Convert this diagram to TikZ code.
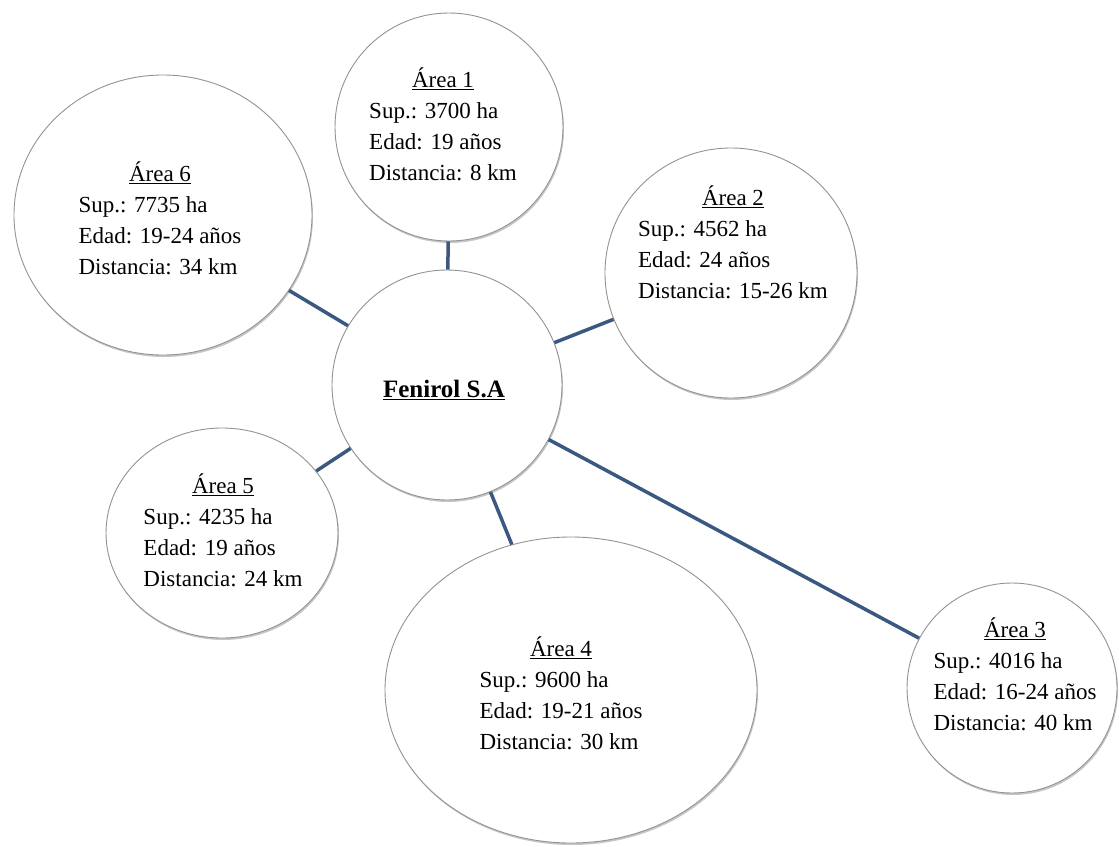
\documentclass[tikz,border=0pt]{standalone}
\usepackage{fontspec}
\setmainfont{Liberation Serif}
\usetikzlibrary{positioning, shapes.geometric, shadows}

\definecolor{linkblue}{RGB}{58,88,128}

\newcommand{\areatext}[4]{%
  \begin{tabular}{@{}l@{}}
    \multicolumn{1}{@{}c@{}}{\underline{#1}}\\
    Sup.: #2\\
    Edad: #3\\
    Distancia: #4
  \end{tabular}}

\begin{document}
\begin{tikzpicture}[x=1pt, y=-1pt,
    zone/.style={ellipse, draw=gray!85, line width=0.9pt, fill=white, inner sep=0pt,
        drop shadow={shadow xshift=1pt, shadow yshift=-2pt, opacity=0.45}},
    info/.style={inner sep=0pt, font=\fontsize{23}{31}\selectfont},
    link/.style={draw=linkblue, line width=3.5pt}]
        \useasboundingbox (0,0) rectangle (1119,846);

        \node (fen) [zone, minimum width=230pt, minimum height=230pt] at (447,385) {};
        \node (a1) [zone, minimum width=228pt, minimum height=228pt] at (449,127) {};
        \node (a2) [zone, minimum width=252pt, minimum height=250pt] at (731,273) {};
        \node (a3) [zone, minimum width=210pt, minimum height=210pt] at (1012,688) {};
        \node (a4) [zone, minimum width=372pt, minimum height=306pt] at (571,690) {};
        \node (a5) [zone, minimum width=232pt, minimum height=210pt] at (222,533) {};
        \node (a6) [zone, minimum width=298pt, minimum height=280pt] at (163,215) {};

        \path
            (fen) edge[link] (a1)
            (fen) edge[link] (a2)
            (fen) edge[link] (a3)
            (fen) edge[link] (a4)
            (fen) edge[link] (a5)
            (fen) edge[link] (a6);

        \node (fentxt) [info, font=\fontsize{25}{31}\selectfont] at (444,390) {\textbf{\underline{Fenirol S.A}}};
        \node (a1txt) [info] at (443,128) {\areatext{Área 1}{3700 ha}{19 años}{8 km}};
        \node (a2txt) [info] at (733,246) {\areatext{Área 2}{4562 ha}{24 años}{15-26 km}};
        \node (a3txt) [info] at (1015,678) {\areatext{Área 3}{4016 ha}{16-24 años}{40 km}};
        \node (a4txt) [info] at (561,697) {\areatext{Área 4}{9600 ha}{19-21 años}{30 km}};
        \node (a5txt) [info] at (223,534) {\areatext{Área 5}{4235 ha}{19 años}{24 km}};
        \node (a6txt) [info] at (160,222) {\areatext{Área 6}{7735 ha}{19-24 años}{34 km}};
    \end{tikzpicture}
\end{document}
